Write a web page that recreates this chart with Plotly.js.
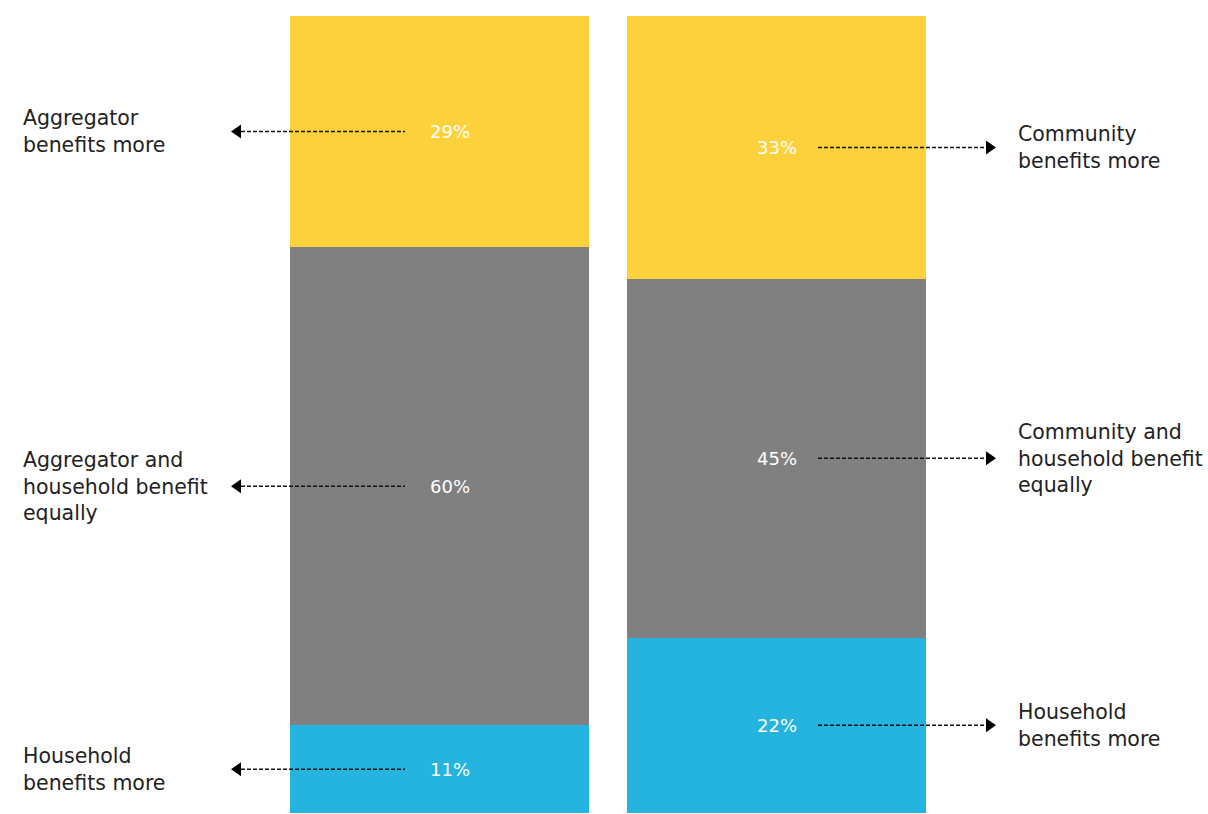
<!DOCTYPE html>
<html>
<head>
<meta charset="utf-8">
<script src="https://cdn.plot.ly/plotly-3.0.1.min.js"></script>
<style>html,body{margin:0;padding:0;background:#fff;}#chart{width:1208px;height:814px;}</style>
</head>
<body>
<div id="chart"></div>
<script>
const categories = ['Aggregator vs household', 'Community vs household'];
const householdMore = [11, 22];
const equally = [60, 45];
const otherMore = [29, 33];
const leftLabels = ['Household<br>benefits more', 'Aggregator and<br>household benefit<br>equally', 'Aggregator<br>benefits more'];
const rightLabels = ['Household<br>benefits more', 'Community and<br>household benefit<br>equally', 'Community<br>benefits more'];

const colors = ['#25B3E0', '#808080', '#FDD13B'];
const series = [householdMore, equally, otherMore];
const labelFont = 'DejaVu Sans, sans-serif';

const traces = series.map((vals, i) => ({
  type: 'bar',
  x: categories,
  y: vals,
  marker: {color: colors[i], line: {width: 0}},
  width: 0.887,
  hoverinfo: 'skip',
  showlegend: false
}));

// Plot area pixel mapping: left 271, right 945
const L = 271, W = 674;
const px = p => (p - L) / W;

const shapes = [];
const annotations = [];
function mids(col) {
  let acc = 0;
  return series.map(s => { const m = acc + s[col] / 2; acc += s[col]; return m; });
}
const leftMids = mids(0);
const rightMids = mids(1);
const lineStyle = {color: '#111111', width: 1.5, dash: '4px,2px'};

leftMids.forEach((m, i) => {
  shapes.push({type: 'line', xref: 'paper', yref: 'y', x0: px(241), x1: px(405), y0: m, y1: m, line: lineStyle});
  shapes.push({type: 'path', xref: 'paper', yref: 'y', xsizemode: 'pixel', ysizemode: 'pixel',
    xanchor: px(231), yanchor: m, path: 'M0,0 L10,-7 L10,7 Z', fillcolor: '#000000', line: {width: 0}});
  annotations.push({xref: 'paper', yref: 'y', x: px(21), y: m, xanchor: 'left', yanchor: 'middle', align: 'left',
    showarrow: false, text: leftLabels[i], font: {size: 20.5, color: '#222222', family: labelFont}});
  annotations.push({xref: 'x', yref: 'y', x: categories[0], y: m, xshift: 10, xanchor: 'center', yanchor: 'middle',
    showarrow: false, text: series[i][0] + '%', font: {size: 18, color: '#ffffff', family: labelFont}});
});
rightMids.forEach((m, i) => {
  shapes.push({type: 'line', xref: 'paper', yref: 'y', x0: px(818), x1: px(986), y0: m, y1: m, line: lineStyle});
  shapes.push({type: 'path', xref: 'paper', yref: 'y', xsizemode: 'pixel', ysizemode: 'pixel',
    xanchor: px(996), yanchor: m, path: 'M0,0 L-10,-7 L-10,7 Z', fillcolor: '#000000', line: {width: 0}});
  annotations.push({xref: 'paper', yref: 'y', x: px(1016), y: m, xanchor: 'left', yanchor: 'middle', align: 'left',
    showarrow: false, text: rightLabels[i], font: {size: 20.5, color: '#222222', family: labelFont}});
  annotations.push({xref: 'x', yref: 'y', x: categories[1], y: m, xanchor: 'center', yanchor: 'middle',
    showarrow: false, text: series[i][1] + '%', font: {size: 18, color: '#ffffff', family: labelFont}});
});

const layout = {
  width: 1208, height: 814,
  margin: {l: 271, r: 263, t: 16, b: 1, pad: 0},
  paper_bgcolor: '#ffffff', plot_bgcolor: '#ffffff',
  barmode: 'stack',
  bargap: 0,
  xaxis: {visible: false, range: [-0.5, 1.5], fixedrange: true},
  yaxis: {visible: false, range: [0, 100], fixedrange: true},
  shapes: shapes,
  annotations: annotations,
  font: {family: labelFont}
};

Plotly.newPlot('chart', traces, layout, {displayModeBar: false, staticPlot: true});
</script>
</body>
</html>
